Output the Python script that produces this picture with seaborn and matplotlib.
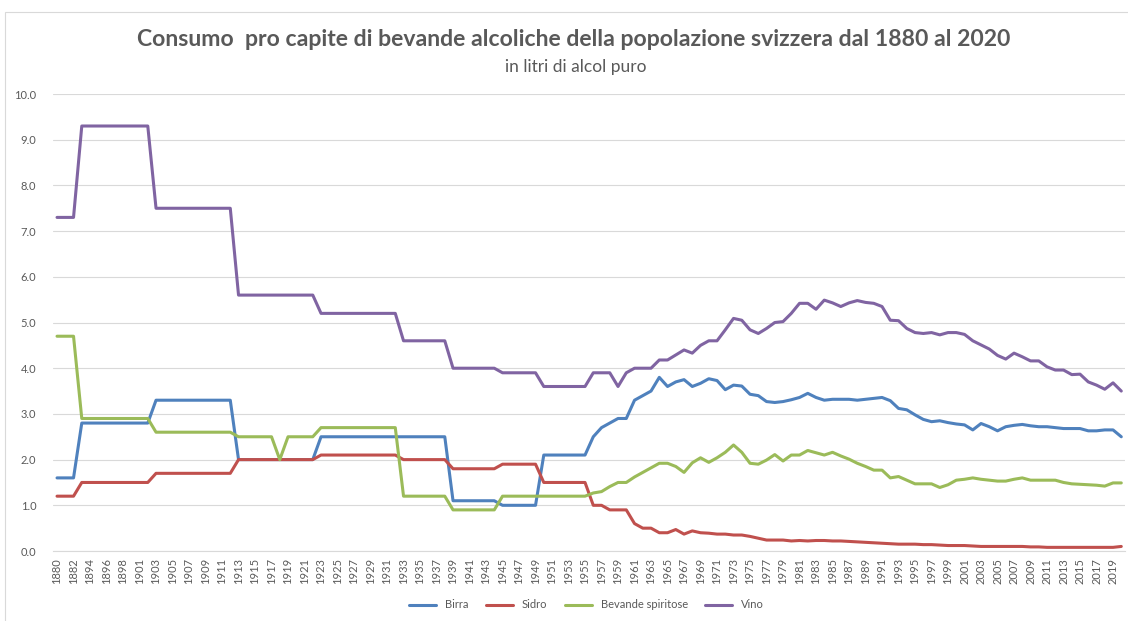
import matplotlib.pyplot as plt
import matplotlib.patches as mpatches
import seaborn as sns
import pandas as pd

# categories (x axis) - early years are period values, then yearly
years = ["1880", "1881", "1882", "1893", "1894", "1895", "1896", "1897", "1898", "1900", "1901", "1902"] + \
        [str(y) for y in range(1903, 2021)]

birra = [1.6, 1.6, 1.6,
         2.8, 2.8, 2.8, 2.8, 2.8, 2.8, 2.8, 2.8, 2.8,
         3.3, 3.3, 3.3, 3.3, 3.3, 3.3, 3.3, 3.3, 3.3, 3.3,
         2.0, 2.0, 2.0, 2.0, 2.0, 2.0, 2.0, 2.0, 2.0, 2.0,
         2.5, 2.5, 2.5, 2.5, 2.5, 2.5, 2.5, 2.5, 2.5, 2.5, 2.5, 2.5, 2.5, 2.5, 2.5, 2.5,
         1.1, 1.1, 1.1, 1.1, 1.1, 1.1,
         1.0, 1.0, 1.0, 1.0, 1.0,
         2.1, 2.1, 2.1, 2.1, 2.1, 2.1,
         2.5, 2.7, 2.8, 2.9, 2.9,
         3.3, 3.4, 3.5, 3.8, 3.6,
         3.7, 3.75, 3.6, 3.67, 3.77,
         3.73, 3.53, 3.63, 3.61, 3.43,
         3.40, 3.27, 3.25, 3.27, 3.31,
         3.36, 3.45, 3.36, 3.30, 3.32,
         3.32, 3.32, 3.30, 3.32, 3.34,
         3.36, 3.29, 3.12, 3.09, 2.98,
         2.88, 2.83, 2.85, 2.81, 2.78,
         2.76, 2.65, 2.79, 2.72, 2.63,
         2.72, 2.75, 2.77, 2.74, 2.72,
         2.72, 2.70, 2.68, 2.68, 2.68,
         2.63, 2.63, 2.65, 2.65, 2.50]

sidro = [1.2, 1.2, 1.2,
         1.5, 1.5, 1.5, 1.5, 1.5, 1.5, 1.5, 1.5, 1.5,
         1.7, 1.7, 1.7, 1.7, 1.7, 1.7, 1.7, 1.7, 1.7, 1.7,
         2.0, 2.0, 2.0, 2.0, 2.0, 2.0, 2.0, 2.0, 2.0, 2.0,
         2.1, 2.1, 2.1, 2.1, 2.1, 2.1, 2.1, 2.1, 2.1, 2.1,
         2.0, 2.0, 2.0, 2.0, 2.0, 2.0,
         1.8, 1.8, 1.8, 1.8, 1.8, 1.8,
         1.9, 1.9, 1.9, 1.9, 1.9,
         1.5, 1.5, 1.5, 1.5, 1.5, 1.5,
         1.0, 1.0, 0.9, 0.9, 0.9,
         0.6, 0.5, 0.5, 0.4, 0.4,
         0.47, 0.37, 0.44, 0.40, 0.39,
         0.37, 0.37, 0.35, 0.35, 0.32,
         0.28, 0.24, 0.24, 0.24, 0.22,
         0.23, 0.22, 0.23, 0.23, 0.22,
         0.22, 0.21, 0.20, 0.19, 0.18,
         0.17, 0.16, 0.15, 0.15, 0.15,
         0.14, 0.14, 0.13, 0.12, 0.12,
         0.12, 0.11, 0.10, 0.10, 0.10,
         0.10, 0.10, 0.10, 0.09, 0.09,
         0.08, 0.08, 0.08, 0.08, 0.08,
         0.08, 0.08, 0.08, 0.08, 0.10]

spiritose = [4.7, 4.7, 4.7,
             2.9, 2.9, 2.9, 2.9, 2.9, 2.9, 2.9, 2.9, 2.9,
             2.6, 2.6, 2.6, 2.6, 2.6, 2.6, 2.6, 2.6, 2.6, 2.6,
             2.5, 2.5, 2.5, 2.5, 2.5, 2.0, 2.5, 2.5, 2.5, 2.5,
             2.7, 2.7, 2.7, 2.7, 2.7, 2.7, 2.7, 2.7, 2.7, 2.7,
             1.2, 1.2, 1.2, 1.2, 1.2, 1.2,
             0.9, 0.9, 0.9, 0.9, 0.9, 0.9,
             1.2, 1.2, 1.2, 1.2, 1.2, 1.2, 1.2, 1.2, 1.2, 1.2, 1.2,
             1.27, 1.30, 1.41, 1.50, 1.50,
             1.62, 1.72, 1.82, 1.92, 1.92,
             1.85, 1.72, 1.93, 2.04, 1.94,
             2.04, 2.16, 2.32, 2.16, 1.92,
             1.90, 1.99, 2.11, 1.97, 2.10,
             2.10, 2.20, 2.15, 2.10, 2.16,
             2.08, 2.01, 1.92, 1.85, 1.77,
             1.77, 1.60, 1.63, 1.55, 1.47,
             1.47, 1.47, 1.39, 1.45, 1.55,
             1.57, 1.60, 1.57, 1.55, 1.53,
             1.53, 1.57, 1.60, 1.55, 1.55,
             1.55, 1.55, 1.50, 1.47, 1.46,
             1.45, 1.44, 1.42, 1.49, 1.49]

vino = [7.3, 7.3, 7.3,
        9.3, 9.3, 9.3, 9.3, 9.3, 9.3, 9.3, 9.3, 9.3,
        7.5, 7.5, 7.5, 7.5, 7.5, 7.5, 7.5, 7.5, 7.5, 7.5,
        5.6, 5.6, 5.6, 5.6, 5.6, 5.6, 5.6, 5.6, 5.6, 5.6,
        5.2, 5.2, 5.2, 5.2, 5.2, 5.2, 5.2, 5.2, 5.2, 5.2,
        4.6, 4.6, 4.6, 4.6, 4.6, 4.6,
        4.0, 4.0, 4.0, 4.0, 4.0, 4.0,
        3.9, 3.9, 3.9, 3.9, 3.9,
        3.6, 3.6, 3.6, 3.6, 3.6, 3.6,
        3.9, 3.9, 3.9, 3.6, 3.9,
        4.0, 4.0, 4.0, 4.18, 4.18,
        4.29, 4.40, 4.33, 4.50, 4.60,
        4.60, 4.84, 5.09, 5.05, 4.84,
        4.76, 4.87, 5.00, 5.02, 5.20,
        5.42, 5.42, 5.29, 5.49, 5.43,
        5.35, 5.43, 5.48, 5.44, 5.42,
        5.35, 5.05, 5.04, 4.87, 4.78,
        4.76, 4.78, 4.73, 4.78, 4.78,
        4.74, 4.60, 4.51, 4.42, 4.28,
        4.20, 4.33, 4.25, 4.16, 4.16,
        4.03, 3.96, 3.96, 3.86, 3.87,
        3.70, 3.63, 3.54, 3.68, 3.50]

series_names = ["Birra", "Sidro", "Bevande spiritose", "Vino"]
colors = ["#4F81BD", "#C0504D", "#9BBB59", "#8064A2"]

rows = []
for name, vals in zip(series_names, [birra, sidro, spiritose, vino]):
    for i, v in enumerate(vals):
        rows.append({"pos": i, "anno": years[i], "serie": name, "litri": v})
df = pd.DataFrame(rows)

sns.set_style("white")
plt.rcParams['font.family'] = ['Lato', 'DejaVu Sans']
grey = "#595959"

fig = plt.figure(figsize=(11.28, 6.21), dpi=100)
ax = fig.add_axes([0.0469, 0.1127, 0.9508, 0.7359])

sns.lineplot(data=df, x="pos", y="litri", hue="serie", hue_order=series_names,
             palette=colors, linewidth=2.2, ax=ax, legend=False)

ax.set_xlim(-0.5, len(years) - 0.5)
ax.set_ylim(0, 10)
ax.set_yticks(range(0, 11))
ax.set_yticklabels([f"{v:.1f}" for v in range(0, 11)], color=grey, fontsize=8)
ax.set_xticks(range(0, len(years), 2))
ax.set_xticklabels(years[::2], rotation=90, color=grey, fontsize=8)
ax.tick_params(axis="both", length=0)
ax.tick_params(axis="y", pad=12)
ax.tick_params(axis="x", pad=5)
ax.set_xlabel("")
ax.set_ylabel("")
ax.grid(axis="y", color="#D9D9D9", linewidth=0.8)
ax.set_axisbelow(True)
for s in ["top", "right", "left"]:
    ax.spines[s].set_visible(False)
ax.spines["bottom"].set_color("#D9D9D9")
ax.spines["bottom"].set_linewidth(0.8)

fig.text(0.509, 1 - 40 / 621, "Consumo  pro capite di bevande alcoliche della popolazione svizzera dal 1880 al 2020",
         ha="center", va="center", fontsize=16.6, fontweight="bold", color=grey)
fig.text(0.51, 1 - 67 / 621, "in litri di alcol puro", ha="center", va="center", fontsize=12.5, color=grey)

handles = [plt.Line2D([], [], color=c, linewidth=2.2) for c in colors]
fig.legend(handles, series_names, loc="center", bbox_to_anchor=(0.52, 16 / 621), ncol=4,
           frameon=False, fontsize=8, handlelength=2.4, columnspacing=1.6, labelcolor=grey)

# outer chart frame
fig.add_artist(mpatches.Rectangle((5 / 1128, -0.1), 1.5, 0.1 + 1 - 12 / 621, transform=fig.transFigure,
                                  fill=False, edgecolor="#D9D9D9", linewidth=0.8))

fig.savefig("out.png", dpi=100)
